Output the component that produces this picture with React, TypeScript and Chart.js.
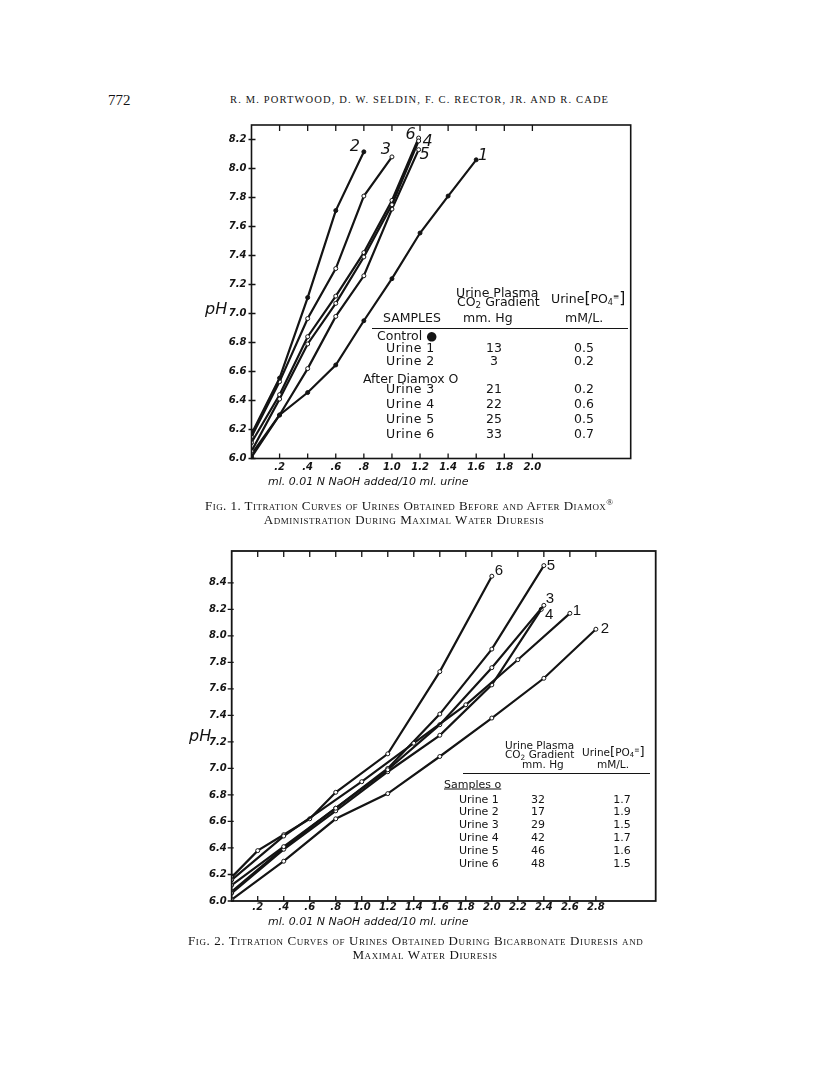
import React, { useEffect, useRef } from 'react';
import { Chart, registerables } from 'chart.js';
Chart.register(...registerables);

// ---------- Fig. 1 data ----------
const fig1XTicks = [0.2, 0.4, 0.6, 0.8, 1.0, 1.2, 1.4, 1.6, 1.8, 2.0];
const fig1YTicks = [6.0, 6.2, 6.4, 6.6, 6.8, 7.0, 7.2, 7.4, 7.6, 7.8, 8.0, 8.2];
const fig1U1X = [0, 0.2, 0.4, 0.6, 0.8, 1.0, 1.2, 1.4, 1.6];
const fig1U1Y = [6.01, 6.30, 6.455, 6.645, 6.95, 7.24, 7.555, 7.81, 8.06];
const fig1U2X = [0, 0.2, 0.4, 0.6, 0.8];
const fig1U2Y = [6.17, 6.555, 7.11, 7.71, 8.115];
const fig1U3X = [0, 0.2, 0.4, 0.6, 0.8, 1.0];
const fig1U3Y = [6.15, 6.53, 6.965, 7.31, 7.81, 8.08];
const fig1U4X = [0, 0.2, 0.4, 0.6, 0.8, 1.0, 1.19];
const fig1U4Y = [6.05, 6.41, 6.79, 7.07, 7.39, 7.75, 8.19];
const fig1U5X = [0, 0.2, 0.4, 0.6, 0.8, 1.0, 1.19];
const fig1U5Y = [6.03, 6.30, 6.62, 6.98, 7.26, 7.72, 8.13];
const fig1U6X = [0, 0.2, 0.4, 0.6, 0.8, 1.0, 1.19];
const fig1U6Y = [6.11, 6.44, 6.84, 7.12, 7.42, 7.78, 8.21];
const fig1Samples = ['Urine 1', 'Urine 2', 'Urine 3', 'Urine 4', 'Urine 5', 'Urine 6'];
const fig1Gradient = ['13', '3', '21', '22', '25', '33'];
const fig1PO4 = ['0.5', '0.2', '0.2', '0.6', '0.5', '0.7'];

// ---------- Fig. 2 data ----------
const fig2XTicks = [0.2, 0.4, 0.6, 0.8, 1.0, 1.2, 1.4, 1.6, 1.8, 2.0, 2.2, 2.4, 2.6, 2.8];
const fig2YTicks = [6.0, 6.2, 6.4, 6.6, 6.8, 7.0, 7.2, 7.4, 7.6, 7.8, 8.0, 8.2, 8.4];
const fig2U1X = [0, 0.4, 1.0, 1.4, 1.8, 2.2, 2.6];
const fig2U1Y = [6.16, 6.49, 6.90, 7.19, 7.48, 7.82, 8.17];
const fig2U2X = [0, 0.4, 0.8, 1.2, 1.6, 2.0, 2.4, 2.8];
const fig2U2Y = [6.01, 6.30, 6.62, 6.81, 7.09, 7.38, 7.68, 8.05];
const fig2U3X = [0, 0.4, 0.8, 1.2, 1.6, 2.0, 2.4];
const fig2U3Y = [6.12, 6.41, 6.70, 6.99, 7.33, 7.76, 8.23];
const fig2U4X = [0, 0.4, 0.8, 1.2, 1.6, 2.0, 2.38];
const fig2U4Y = [6.06, 6.39, 6.68, 6.975, 7.25, 7.63, 8.20];
const fig2U5X = [0, 0.4, 0.8, 1.2, 1.6, 2.0, 2.4];
const fig2U5Y = [6.07, 6.40, 6.70, 7.0, 7.41, 7.90, 8.53];
const fig2U6X = [0, 0.2, 0.4, 0.6, 0.8, 1.2, 1.6, 2.0];
const fig2U6Y = [6.18, 6.38, 6.50, 6.62, 6.82, 7.11, 7.73, 8.45];
const fig2Samples = ['Urine 1', 'Urine 2', 'Urine 3', 'Urine 4', 'Urine 5', 'Urine 6'];
const fig2Gradient = ['32', '17', '29', '42', '46', '48'];
const fig2PO4 = ['1.7', '1.9', '1.5', '1.7', '1.6', '1.5'];

// ---------- styling ----------
const SANS = '"DejaVu Sans", "Noto Sans", sans-serif';
const SERIF = '"Liberation Serif", "DejaVu Serif", serif';
const INK = '#141414';

const zip = (xs: number[], ys: number[]) => xs.map((x, i) => ({ x, y: ys[i] }));
const fmtX = (v: number) => (v < 1 ? '.' + Math.round(v * 10) : v.toFixed(1));

const framePlugin = {
  id: 'frameTicks',
  afterDatasetsDraw(chart: any, _args: any, o: any) {
    const { ctx, chartArea: a, scales } = chart;
    const x = scales.x, y = scales.y;
    ctx.save();
    ctx.strokeStyle = INK;
    ctx.lineWidth = o.frameWidth;
    ctx.strokeRect(a.left, a.top, a.right - a.left, a.bottom - a.top);
    ctx.lineWidth = o.tickWidth;
    ctx.beginPath();
    x.ticks.forEach((t: any) => {
      const px = x.getPixelForValue(t.value);
      ctx.moveTo(px, a.top);
      ctx.lineTo(px, a.top + o.topLen);
      ctx.moveTo(px, a.bottom);
      ctx.lineTo(px, a.bottom - o.bottomLen);
    });
    y.ticks.forEach((t: any) => {
      const py = y.getPixelForValue(t.value);
      ctx.moveTo(a.left - o.leftOut, py);
      ctx.lineTo(a.left + o.leftIn, py);
    });
    ctx.stroke();
    ctx.fillStyle = INK;
    ctx.font = o.labelFont;
    ctx.textAlign = 'center';
    ctx.textBaseline = 'middle';
    chart.data.datasets.forEach((ds: any, i: number) => {
      const meta = chart.getDatasetMeta(i);
      const last = meta.data[meta.data.length - 1];
      const off = o.offsets[i];
      ctx.fillText(ds.label, last.x + off[0], last.y + off[1]);
    });
    ctx.restore();
  },
};

type Ser = { label: string; xs: number[]; ys: number[]; filled: boolean };

function buildConfig(p: {
  series: Ser[]; xMax: number; yMax: number; xTicks: number[]; yTicks: number[];
  padTop: number; padRight: number; yW: number; xH: number; xPad: number; yPad: number;
  tickFont: any; frame: any;
}) {
  return {
    type: 'line',
    data: {
      datasets: p.series.map((s) => ({
        label: s.label,
        data: zip(s.xs, s.ys),
        borderColor: INK,
        borderWidth: 2.2,
        pointRadius: 2,
        pointBorderWidth: 1,
        pointBorderColor: INK,
        pointBackgroundColor: s.filled ? INK : '#fff',
        tension: 0,
        fill: false,
      })),
    },
    options: {
      animation: false,
      responsive: false,
      layout: { padding: { top: p.padTop, right: p.padRight, left: 0, bottom: 0 } },
      plugins: { legend: { display: false }, tooltip: { enabled: false }, frameTicks: p.frame },
      scales: {
        x: {
          type: 'linear', min: 0, max: p.xMax,
          grid: { display: false, drawTicks: false, tickLength: 0 },
          border: { display: false },
          ticks: { autoSkip: false, maxRotation: 0, padding: p.xPad, font: p.tickFont, color: INK, callback: (v: number) => fmtX(v) },
          afterBuildTicks: (s: any) => { s.ticks = p.xTicks.map((v) => ({ value: v })); },
          afterFit: (s: any) => { s.height = p.xH; },
        },
        y: {
          type: 'linear', min: 6.0, max: p.yMax,
          grid: { display: false, drawTicks: false, tickLength: 0 },
          border: { display: false },
          ticks: { autoSkip: false, padding: p.yPad, font: p.tickFont, color: INK, callback: (v: number) => v.toFixed(1) },
          afterBuildTicks: (s: any) => { s.ticks = p.yTicks.map((v) => ({ value: v })); },
          afterFit: (s: any) => { s.width = p.yW; },
        },
      },
    },
    plugins: [framePlugin],
  };
}

function Fig(props: { left: number; top: number; width: number; height: number; config: () => any }) {
  const ref = useRef<HTMLCanvasElement>(null);
  useEffect(() => {
    const chart = new Chart(ref.current as HTMLCanvasElement, props.config());
    return () => chart.destroy();
  }, []);
  return (
    <canvas ref={ref} width={props.width} height={props.height}
      style={{ position: 'absolute', left: props.left, top: props.top, width: props.width, height: props.height }} />
  );
}

const Txt = (p: { x: number; y: number; align?: 'left' | 'center' | 'right'; size: number; family?: string; italic?: boolean; weight?: number; ls?: number; sc?: boolean; underline?: boolean; children: any }) => {
  const tx = p.align === 'center' ? -50 : p.align === 'right' ? -100 : 0;
  return (
    <div style={{
      position: 'absolute', left: p.x, top: p.y, transform: `translate(${tx}%, -50%)`,
      fontSize: p.size, fontFamily: p.family || SANS, fontStyle: p.italic ? 'italic' : 'normal',
      fontWeight: p.weight || 400, letterSpacing: p.ls || 0, fontVariant: p.sc ? 'small-caps' : 'normal',
      textDecoration: p.underline ? 'underline' : 'none', lineHeight: 1, whiteSpace: 'nowrap', color: INK,
    }}>{p.children}</div>
  );
};

const PO4 = () => (
  <span>Urine<span style={{ fontSize: '1.25em' }}>[</span>PO<span style={{ fontSize: '0.65em', verticalAlign: '-0.2em' }}>4</span><span style={{ fontSize: '0.6em', verticalAlign: '0.6em' }}>≡</span><span style={{ fontSize: '1.25em' }}>]</span></span>
);

const fig1Rows = [348, 361, 389, 404, 419, 434];
const fig2Rows = [799, 811, 823.5, 836.5, 849.5, 862.5];

export default function App() {
  const fig1Series: Ser[] = [
    { label: '1', xs: fig1U1X, ys: fig1U1Y, filled: true },
    { label: '2', xs: fig1U2X, ys: fig1U2Y, filled: true },
    { label: '3', xs: fig1U3X, ys: fig1U3Y, filled: false },
    { label: '4', xs: fig1U4X, ys: fig1U4Y, filled: false },
    { label: '5', xs: fig1U5X, ys: fig1U5Y, filled: false },
    { label: '6', xs: fig1U6X, ys: fig1U6Y, filled: false },
  ];
  const fig2Series: Ser[] = [
    { label: '1', xs: fig2U1X, ys: fig2U1Y, filled: false },
    { label: '2', xs: fig2U2X, ys: fig2U2Y, filled: false },
    { label: '3', xs: fig2U3X, ys: fig2U3Y, filled: false },
    { label: '4', xs: fig2U4X, ys: fig2U4Y, filled: false },
    { label: '5', xs: fig2U5X, ys: fig2U5Y, filled: false },
    { label: '6', xs: fig2U6X, ys: fig2U6Y, filled: false },
  ];
  const tickFont = { family: SANS, size: 10, style: 'italic', weight: 'bold' };
  const cfg1 = () => buildConfig({
    series: fig1Series, xMax: 2.7, yMax: 8.3, xTicks: fig1XTicks, yTicks: fig1YTicks,
    padTop: 10.7, padRight: 9.3, yW: 56.5, xH: 20.5, xPad: 3, yPad: 5, tickFont,
    frame: {
      frameWidth: 1.6, tickWidth: 1.3, topLen: 6, bottomLen: 5, leftOut: 3, leftIn: 4,
      labelFont: `italic 16px ${SANS}`,
      offsets: [[7, -4], [-9, -5], [-6, -7], [9, 1], [6, 5], [-8, -3]],
    },
  });
  const cfg2 = () => buildConfig({
    series: fig2Series, xMax: 3.26, yMax: 8.64, xTicks: fig2XTicks, yTicks: fig2YTicks,
    padTop: 9, padRight: 9.3, yW: 56.7, xH: 24, xPad: 0, yPad: 5, tickFont,
    frame: {
      frameWidth: 1.8, tickWidth: 1.3, topLen: 6, bottomLen: 5, leftOut: 4, leftIn: 2,
      labelFont: `15px "Liberation Sans", ${SANS}`,
      offsets: [[7, -2], [9, 0], [6, -6], [8, 6], [7, 0], [7, -5]],
    },
  });

  return (
    <div style={{ position: 'absolute', left: 0, top: 0, width: 816, height: 1077, background: '#fff', overflow: 'hidden' }}>
      {/* page header */}
      <Txt x={108} y={100} size={15} family={SERIF}>772</Txt>
      <Txt x={230} y={100} size={10.5} family={SERIF} ls={1.15}>R. M. PORTWOOD, D. W. SELDIN, F. C. RECTOR, JR. AND R. CADE</Txt>

      {/* Figure 1 */}
      <Fig left={195} top={114} width={445} height={365} config={cfg1} />
      <Txt x={205} y={309} size={16} italic>pH</Txt>
      <Txt x={268} y={481} size={11} italic>ml. 0.01 N NaOH  added/10 ml. urine</Txt>
      <Txt x={456} y={293} size={12.5}>Urine Plasma</Txt>
      <Txt x={457} y={303} size={12.5}>CO<span style={{ fontSize: '0.7em', verticalAlign: '-0.25em' }}>2</span> Gradient</Txt>
      <Txt x={383} y={318} size={12.5}>SAMPLES</Txt>
      <Txt x={463} y={318} size={12.5}>mm. Hg</Txt>
      <Txt x={551} y={299} size={12.5}><PO4 /></Txt>
      <Txt x={565} y={318} size={12.5}>mM/L.</Txt>
      <div style={{ position: 'absolute', left: 372, top: 328, width: 256, height: 1.3, background: INK }} />
      <Txt x={377} y={336} size={12.5}>Control ●</Txt>
      <Txt x={363} y={379} size={12.5}>After Diamox O</Txt>
      {fig1Samples.map((s, i) => (
        <React.Fragment key={'a' + i}>
          <Txt x={386} y={fig1Rows[i]} size={12.5} ls={0.5}>{s.replace(' ', '  ')}</Txt>
          <Txt x={494} y={fig1Rows[i]} size={12.5} align="center">{fig1Gradient[i]}</Txt>
          <Txt x={584} y={fig1Rows[i]} size={12.5} align="center">{fig1PO4[i]}</Txt>
        </React.Fragment>
      ))}
      <Txt x={205} y={505} size={13} family={SERIF} sc ls={0.45}>Fig. 1. Titration Curves of Urines Obtained Before and After Diamox<sup style={{ fontSize: '0.7em' }}>®</sup></Txt>
      <Txt x={404} y={519} size={13} family={SERIF} sc ls={0.55} align="center">Administration During Maximal Water Diuresis</Txt>

      {/* Figure 2 */}
      <Fig left={175} top={540} width={490} height={385} config={cfg2} />
      <Txt x={189} y={736} size={16} italic>pH</Txt>
      <Txt x={268} y={921} size={11} italic>ml. 0.01 N  NaOH  added/10 ml. urine</Txt>
      <Txt x={505} y={745} size={10.5}>Urine Plasma</Txt>
      <Txt x={505} y={755} size={10.5}>CO<span style={{ fontSize: '0.7em', verticalAlign: '-0.25em' }}>2</span> Gradient</Txt>
      <Txt x={522} y={764} size={10.5}>mm. Hg</Txt>
      <Txt x={582} y={752} size={10.5}><PO4 /></Txt>
      <Txt x={597} y={764} size={10.5}>mM/L.</Txt>
      <div style={{ position: 'absolute', left: 463, top: 772.5, width: 187, height: 1.2, background: INK }} />
      <Txt x={444} y={784} size={11} underline>Samples o</Txt>
      {fig2Samples.map((s, i) => (
        <React.Fragment key={'b' + i}>
          <Txt x={459} y={fig2Rows[i]} size={11}>{s}</Txt>
          <Txt x={538} y={fig2Rows[i]} size={11} align="center">{fig2Gradient[i]}</Txt>
          <Txt x={622} y={fig2Rows[i]} size={11} align="center">{fig2PO4[i]}</Txt>
        </React.Fragment>
      ))}
      <Txt x={188} y={940} size={13} family={SERIF} sc ls={0.6}>Fig. 2. Titration Curves of Urines Obtained During Bicarbonate Diuresis and</Txt>
      <Txt x={425} y={954} size={13} family={SERIF} sc ls={0.6} align="center">Maximal Water Diuresis</Txt>
    </div>
  );
}
